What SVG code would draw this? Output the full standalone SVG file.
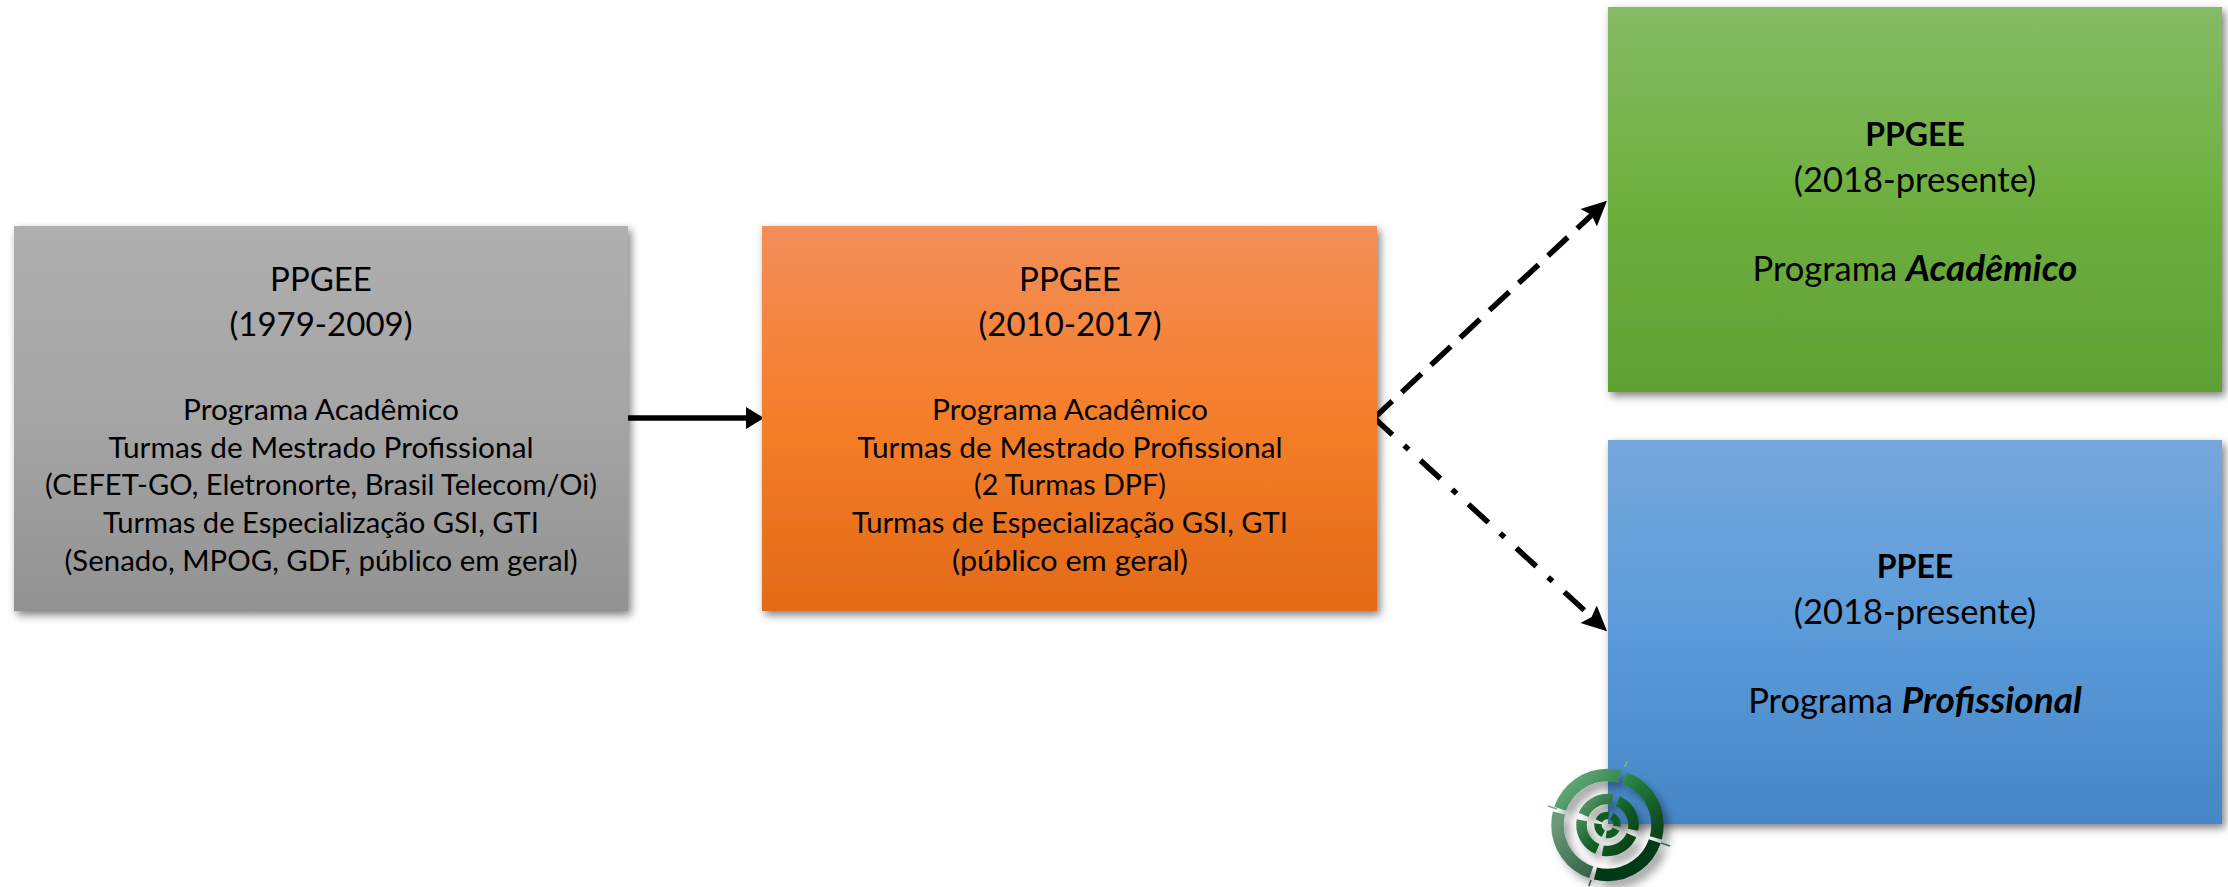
<svg xmlns="http://www.w3.org/2000/svg" width="2228" height="887" viewBox="0 0 2228 887">
<style>
text{font-family:"Lato","Carlito","Liberation Sans",sans-serif;font-size:29.5px;fill:#000;text-anchor:middle}
.h{font-size:33px}
.b{font-weight:700;font-size:32px}
.p{font-size:34.5px}
.bi{font-weight:700;font-style:italic;font-size:37px}
.box{filter:url(#sh)}
.c{fill:none;stroke:#000;stroke-width:5.5}
.r{fill:none}
</style>
<defs>
<filter id="sh" x="-5%" y="-5%" width="112%" height="112%"><feDropShadow dx="3" dy="4" stdDeviation="4" flood-color="#000" flood-opacity=".5"/></filter>
<filter id="ls" x="-30%" y="-30%" width="170%" height="170%"><feDropShadow dx="6" dy="7" stdDeviation="4" flood-color="#000" flood-opacity=".35"/></filter>
<linearGradient id="gg" x1="0" y1="0" x2="0" y2="1"><stop offset="0" stop-color="#afafaf"/><stop offset=".5" stop-color="#a5a5a5"/><stop offset="1" stop-color="#929292"/></linearGradient>
<linearGradient id="go" x1="0" y1="0" x2="0" y2="1"><stop offset="0" stop-color="#f28e58"/><stop offset=".5" stop-color="#f57e2a"/><stop offset="1" stop-color="#e36a17"/></linearGradient>
<linearGradient id="gn" x1="0" y1="0" x2="0" y2="1"><stop offset="0" stop-color="#85bb65"/><stop offset=".5" stop-color="#6eb03f"/><stop offset="1" stop-color="#5fa033"/></linearGradient>
<linearGradient id="gb" x1="0" y1="0" x2="0" y2="1"><stop offset="0" stop-color="#76a7dc"/><stop offset=".5" stop-color="#5b9bd9"/><stop offset="1" stop-color="#4586c6"/></linearGradient>
<linearGradient id="l1" gradientUnits="userSpaceOnUse" x1="1560" y1="780" x2="1650" y2="870"><stop offset="0" stop-color="#6fae80"/><stop offset=".45" stop-color="#217a3e"/><stop offset="1" stop-color="#04300e"/></linearGradient>
<linearGradient id="l2" gradientUnits="userSpaceOnUse" x1="1550" y1="830" x2="1610" y2="880"><stop offset="0" stop-color="#6a9a76"/><stop offset="1" stop-color="#24503a"/></linearGradient>
<linearGradient id="l3" gradientUnits="userSpaceOnUse" x1="1580" y1="800" x2="1640" y2="850"><stop offset="0" stop-color="#5f9a6c"/><stop offset=".5" stop-color="#0e6126"/><stop offset="1" stop-color="#04360f"/></linearGradient>
<marker id="a" markerUnits="userSpaceOnUse" markerWidth="20" markerHeight="26" refX="8" refY="13" orient="auto"><path d="M0 2 18 13 0 24z"/></marker>
<marker id="a2" markerUnits="userSpaceOnUse" markerWidth="28" markerHeight="28" refX="10" refY="14" orient="auto"><path d="M0 2 25 14 0 26 4 14z"/></marker>
</defs>
<g id="connectors">
<path class="c" marker-end="url(#a)" d="M628 418H754"/>
<path class="c" marker-end="url(#a2)" stroke-dasharray="27 13" d="M1372.5 419.5 1596 211"/>
<path class="c" marker-end="url(#a2)" stroke-dasharray="27 16 6 16" d="M1372.5 416.5 1596 621"/>
</g>
<g id="node-1979">
<rect class="box" x="14" y="226" width="614" height="385" fill="url(#gg)"/>
<text class="h" x="321" y="291">PPGEE</text>
<text class="h" x="321" y="336">(1979-2009)</text>
<text x="321" y="420" textLength="276" lengthAdjust="spacingAndGlyphs">Programa Acadêmico</text>
<text x="321" y="458" textLength="425" lengthAdjust="spacingAndGlyphs">Turmas de Mestrado Profissional</text>
<text x="321" y="495" textLength="552" lengthAdjust="spacingAndGlyphs">(CEFET-GO, Eletronorte, Brasil Telecom/Oi)</text>
<text x="321" y="533" textLength="436" lengthAdjust="spacingAndGlyphs">Turmas de Especialização GSI, GTI</text>
<text x="321" y="571" textLength="513" lengthAdjust="spacingAndGlyphs">(Senado, MPOG, GDF, público em geral)</text>
</g>
<g id="node-2010">
<rect class="box" x="762" y="226" width="615" height="385" fill="url(#go)"/>
<text class="h" x="1070" y="291">PPGEE</text>
<text class="h" x="1070" y="336">(2010-2017)</text>
<text x="1070" y="420" textLength="276" lengthAdjust="spacingAndGlyphs">Programa Acadêmico</text>
<text x="1070" y="458" textLength="425" lengthAdjust="spacingAndGlyphs">Turmas de Mestrado Profissional</text>
<text x="1070" y="495" textLength="192" lengthAdjust="spacingAndGlyphs">(2 Turmas DPF)</text>
<text x="1070" y="533" textLength="436" lengthAdjust="spacingAndGlyphs">Turmas de Especialização GSI, GTI</text>
<text x="1070" y="571" textLength="236" lengthAdjust="spacingAndGlyphs">(público em geral)</text>
</g>
<g id="node-academico">
<rect class="box" x="1608" y="7" width="614" height="385" fill="url(#gn)"/>
<text class="b" x="1915" y="146">PPGEE</text>
<text class="p" x="1915" y="192">(2018-presente)</text>
<text class="p" x="1915" y="281">Programa <tspan class="bi">Acadêmico</tspan></text>
</g>
<g id="node-profissional">
<rect class="box" x="1608" y="440" width="614" height="384" fill="url(#gb)"/>
<text class="b" x="1915" y="578">PPEE</text>
<text class="p" x="1915" y="624">(2018-presente)</text>
<text class="p" x="1915" y="713">Programa <tspan class="bi">Profissional</tspan></text>
</g>
<g id="logo">
<g filter="url(#ls)">
<g stroke-width="12.5" class="r">
<circle class="r" cx="1607.5" cy="825" r="50" pathLength="360" stroke="url(#l1)" stroke-dasharray="85 275" stroke-dashoffset="70"/>
<circle class="r" cx="1607.5" cy="825" r="50" pathLength="360" stroke="#063a12" stroke-dasharray="85 275" stroke-dashoffset="-19"/>
<circle class="r" cx="1607.5" cy="825" r="50" pathLength="360" stroke="url(#l2)" stroke-dasharray="85 275" stroke-dashoffset="-109"/>
<circle class="r" cx="1607.5" cy="825" r="50" pathLength="360" stroke="url(#l1)" stroke-dasharray="85 275" stroke-dashoffset="-199"/>
</g>
<circle class="r" cx="1607.5" cy="825" r="26" stroke-width="10.5" stroke="url(#l3)" pathLength="360" stroke-dasharray="78 12" stroke-dashoffset="-23"/>
<circle class="r" cx="1607.5" cy="825" r="9.5" stroke-width="7.5" stroke="#0d5c22" pathLength="360" stroke-dasharray="72 18" stroke-dashoffset="-26"/>
</g>
<g stroke-width="1.8" fill="none">
<path stroke="#7fae8a" d="M1627 761 1625 767M1548 806 1557 809"/>
<path stroke="#3c6b4a" d="M1661 843 1670 846M1591 880 1589 886"/>
</g>
</g>
</svg>
